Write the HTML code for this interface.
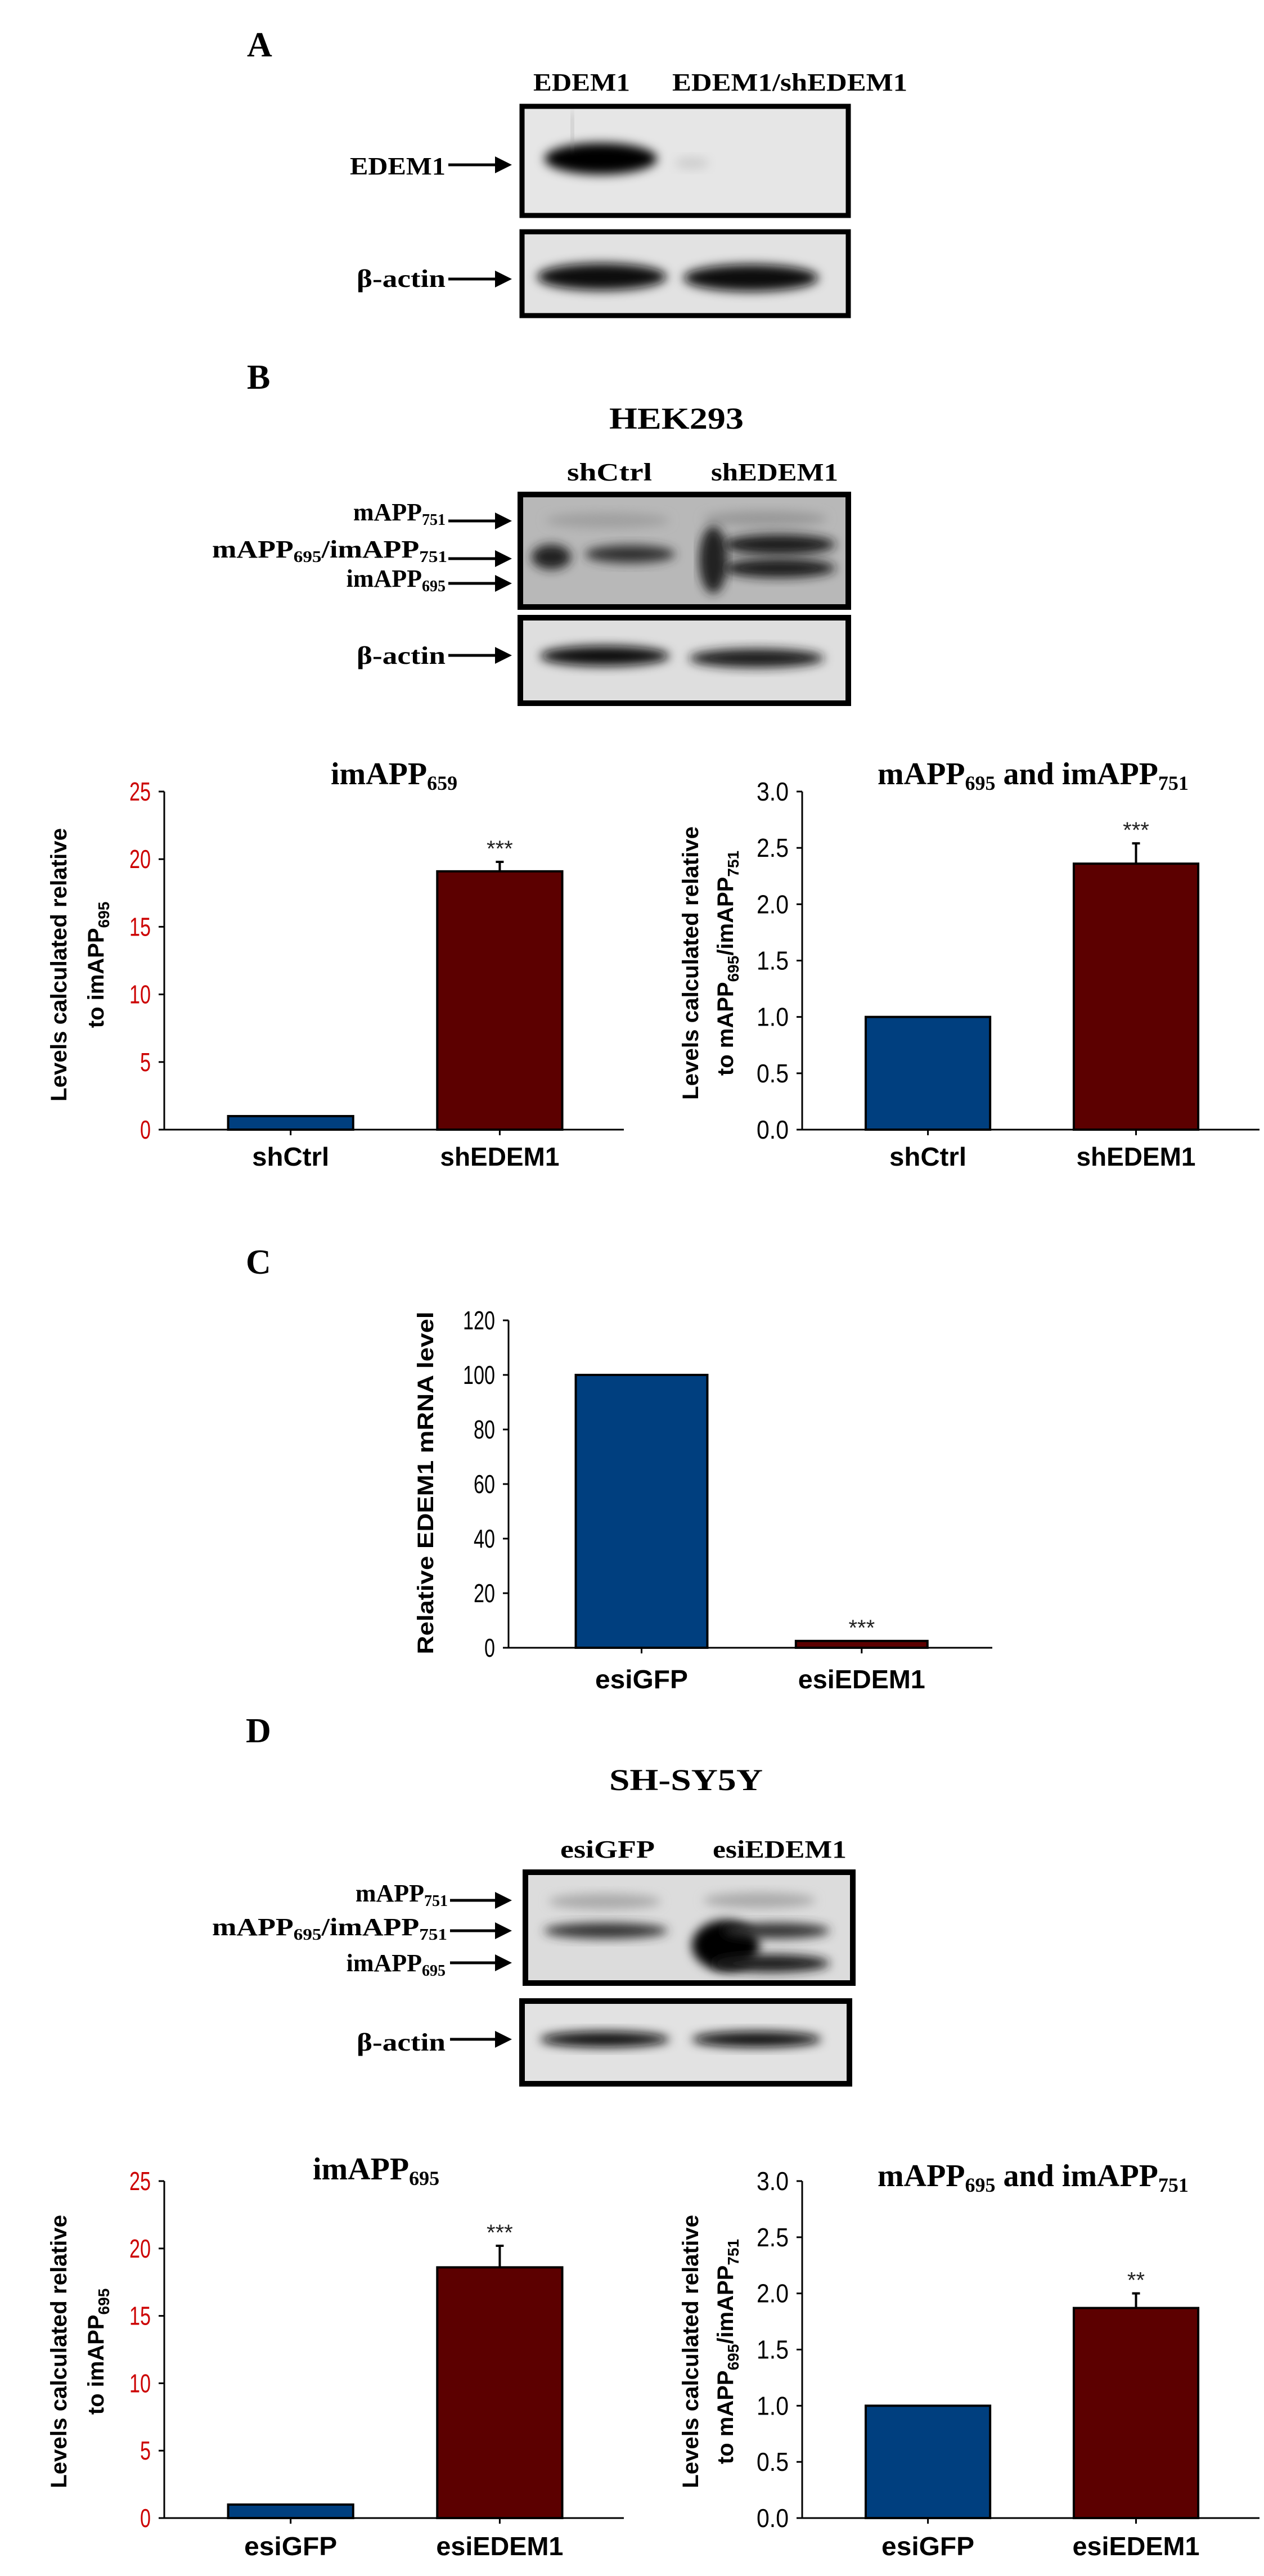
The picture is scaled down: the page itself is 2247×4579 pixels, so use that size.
<!DOCTYPE html>
<html><head><meta charset="utf-8">
<style>
html,body{margin:0;padding:0;background:#fff;}
svg{display:block;}
.serif{font-family:"Liberation Serif",serif;font-weight:bold;}
.sans{font-family:"Liberation Sans",sans-serif;}
</style></head>
<body>
<svg id="fig" width="2247" height="4579" viewBox="0 0 2247 4579" xmlns="http://www.w3.org/2000/svg">
<defs>
<filter id="blur" x="-20%" y="-50%" width="140%" height="200%"><feGaussianBlur stdDeviation="9"/></filter>
<marker id="ah" markerWidth="6" markerHeight="6" refX="5" refY="3" orient="auto" markerUnits="strokeWidth"><path d="M0,0 L6,3 L0,6 z" fill="#000"/></marker>
</defs>

<!-- ===== Panel A ===== -->
<g>
<text class="serif" x="439" y="100" font-size="62" font-weight="bold">A</text>
<text class="serif" x="948" y="161" font-size="44" textLength="172" lengthAdjust="spacingAndGlyphs">EDEM1</text>
<text class="serif" x="1195" y="161" font-size="44" textLength="418" lengthAdjust="spacingAndGlyphs">EDEM1/shEDEM1</text>
<g>
<rect x="928" y="189" width="580" height="194" fill="#e6e6e6"/>
<ellipse cx="1068" cy="282" rx="100" ry="28" fill="#000" filter="url(#blur)"/>
<line x1="1015" y1="200" x2="1020" y2="260" stroke="#999" stroke-width="5" filter="url(#blur)"/>
<ellipse cx="1230" cy="290" rx="30" ry="10" fill="#ccc" filter="url(#blur)"/>
<rect x="928" y="189" width="580" height="194" fill="none" stroke="#000" stroke-width="9"/>
</g>
<g>
<rect x="928" y="412" width="580" height="149" fill="#e2e2e2"/>
<ellipse cx="1070" cy="492" rx="115" ry="24" fill="#111" filter="url(#blur)"/>
<ellipse cx="1335" cy="494" rx="120" ry="24" fill="#111" filter="url(#blur)"/>
<rect x="928" y="412" width="580" height="149" fill="none" stroke="#000" stroke-width="9"/>
</g>
<text class="serif" x="792" y="310" font-size="44" text-anchor="end" textLength="170" lengthAdjust="spacingAndGlyphs">EDEM1</text>
<line x1="797" y1="293" x2="905" y2="293" stroke="#000" stroke-width="5" marker-end="url(#ah)"/>
<text class="serif" x="792" y="510" font-size="44" text-anchor="end" textLength="158" lengthAdjust="spacingAndGlyphs">β-actin</text>
<line x1="797" y1="496" x2="905" y2="496" stroke="#000" stroke-width="5" marker-end="url(#ah)"/>
</g>

<!-- ===== Panel B blots ===== -->
<g>
<text class="serif" x="439" y="691" font-size="62" font-weight="bold">B</text>
<text class="serif" x="1083" y="762" font-size="54" textLength="239" lengthAdjust="spacingAndGlyphs">HEK293</text>
<text class="serif" x="1008" y="854" font-size="44" textLength="151" lengthAdjust="spacingAndGlyphs">shCtrl</text>
<text class="serif" x="1264" y="854" font-size="44" textLength="226" lengthAdjust="spacingAndGlyphs">shEDEM1</text>
<g>
<rect x="925" y="879" width="583" height="200" fill="#b8b8b8"/>
<ellipse cx="1080" cy="925" rx="110" ry="14" fill="#a0a0a0" filter="url(#blur)"/>
<ellipse cx="1360" cy="922" rx="110" ry="14" fill="#999" filter="url(#blur)"/>
<ellipse cx="980" cy="990" rx="35" ry="22" fill="#222" filter="url(#blur)"/>
<ellipse cx="1120" cy="985" rx="80" ry="16" fill="#333" filter="url(#blur)"/>
<ellipse cx="1268" cy="995" rx="25" ry="60" fill="#222" filter="url(#blur)"/>
<ellipse cx="1385" cy="968" rx="100" ry="18" fill="#1a1a1a" filter="url(#blur)"/>
<ellipse cx="1385" cy="1010" rx="100" ry="17" fill="#1a1a1a" filter="url(#blur)"/>
<rect x="925" y="879" width="583" height="200" fill="none" stroke="#000" stroke-width="10"/>
</g>
<g>
<rect x="925" y="1098" width="583" height="152" fill="#dedede"/>
<ellipse cx="1075" cy="1166" rx="115" ry="18" fill="#0a0a0a" filter="url(#blur)"/>
<ellipse cx="1345" cy="1170" rx="120" ry="17" fill="#1a1a1a" filter="url(#blur)"/>
<rect x="925" y="1098" width="583" height="152" fill="none" stroke="#000" stroke-width="10"/>
</g>
<text class="serif" x="792" y="925" font-size="44" text-anchor="end">mAPP<tspan font-size="28" dy="8">751</tspan></text>
<line x1="797" y1="926" x2="905" y2="926" stroke="#000" stroke-width="5" marker-end="url(#ah)"/>
<text class="serif" x="795" y="991" font-size="44" text-anchor="end" textLength="418" lengthAdjust="spacingAndGlyphs">mAPP<tspan font-size="28" dy="8">695</tspan><tspan dy="-8">/imAPP</tspan><tspan font-size="28" dy="8">751</tspan></text>
<line x1="797" y1="993" x2="905" y2="993" stroke="#000" stroke-width="5" marker-end="url(#ah)"/>
<text class="serif" x="792" y="1043" font-size="44" text-anchor="end">imAPP<tspan font-size="28" dy="8">695</tspan></text>
<line x1="797" y1="1037" x2="905" y2="1037" stroke="#000" stroke-width="5" marker-end="url(#ah)"/>
<text class="serif" x="792" y="1180" font-size="44" text-anchor="end" textLength="158" lengthAdjust="spacingAndGlyphs">β-actin</text>
<line x1="797" y1="1165" x2="905" y2="1165" stroke="#000" stroke-width="5" marker-end="url(#ah)"/>
</g>

<!-- ===== Panel C label ===== -->
<text class="serif" x="437" y="2264" font-size="62" font-weight="bold">C</text>

<!-- ===== Panel D blots ===== -->
<g>
<text class="serif" x="437" y="3097" font-size="62" font-weight="bold">D</text>
<text class="serif" x="1083" y="3182" font-size="54" textLength="273" lengthAdjust="spacingAndGlyphs">SH-SY5Y</text>
<text class="serif" x="996" y="3302" font-size="44" textLength="168" lengthAdjust="spacingAndGlyphs">esiGFP</text>
<text class="serif" x="1267" y="3302" font-size="44" textLength="238" lengthAdjust="spacingAndGlyphs">esiEDEM1</text>
<g>
<rect x="934" y="3328" width="582" height="197" fill="#dcdcdc"/>
<ellipse cx="1075" cy="3380" rx="100" ry="14" fill="#aaa" filter="url(#blur)"/>
<ellipse cx="1350" cy="3378" rx="100" ry="14" fill="#aaa" filter="url(#blur)"/>
<ellipse cx="1077" cy="3432" rx="110" ry="14" fill="#333" filter="url(#blur)"/>
<ellipse cx="1290" cy="3458" rx="60" ry="45" fill="#000" filter="url(#blur)"/>
<ellipse cx="1380" cy="3432" rx="95" ry="14" fill="#333" filter="url(#blur)"/>
<ellipse cx="1370" cy="3490" rx="105" ry="16" fill="#1a1a1a" filter="url(#blur)"/>
<rect x="934" y="3328" width="582" height="197" fill="none" stroke="#000" stroke-width="10"/>
</g>
<g>
<rect x="928" y="3557" width="582" height="147" fill="#e2e2e2"/>
<ellipse cx="1075" cy="3625" rx="115" ry="14" fill="#0a0a0a" filter="url(#blur)"/>
<ellipse cx="1345" cy="3625" rx="115" ry="14" fill="#0a0a0a" filter="url(#blur)"/>
<rect x="928" y="3557" width="582" height="147" fill="none" stroke="#000" stroke-width="10"/>
</g>
<text class="serif" x="796" y="3380" font-size="44" text-anchor="end">mAPP<tspan font-size="28" dy="8">751</tspan></text>
<line x1="800" y1="3378" x2="905" y2="3378" stroke="#000" stroke-width="5" marker-end="url(#ah)"/>
<text class="serif" x="795" y="3440" font-size="44" text-anchor="end" textLength="418" lengthAdjust="spacingAndGlyphs">mAPP<tspan font-size="28" dy="8">695</tspan><tspan dy="-8">/imAPP</tspan><tspan font-size="28" dy="8">751</tspan></text>
<line x1="800" y1="3432" x2="905" y2="3432" stroke="#000" stroke-width="5" marker-end="url(#ah)"/>
<text class="serif" x="792" y="3504" font-size="44" text-anchor="end">imAPP<tspan font-size="28" dy="8">695</tspan></text>
<line x1="800" y1="3489" x2="905" y2="3489" stroke="#000" stroke-width="5" marker-end="url(#ah)"/>
<text class="serif" x="792" y="3645" font-size="44" text-anchor="end" textLength="158" lengthAdjust="spacingAndGlyphs">β-actin</text>
<line x1="800" y1="3625" x2="905" y2="3625" stroke="#000" stroke-width="5" marker-end="url(#ah)"/>
</g>

<g id="charts"></g>
</svg>

<script>
// ---- Chart data ----
const catsB = ["shCtrl", "shEDEM1"];
const valsB1 = [1.0, 19.1];
const errsB1 = [0, 0.7];
const starsB1 = ["", "***"];
const ticksB1 = [0, 5, 10, 15, 20, 25];
const tickLabelsB1 = ["0", "5", "10", "15", "20", "25"];

const valsB2 = [1.0, 2.36];
const errsB2 = [0, 0.18];
const starsB2 = ["", "***"];
const ticksB2 = [0, 0.5, 1.0, 1.5, 2.0, 2.5, 3.0];
const tickLabelsB2 = ["0.0", "0.5", "1.0", "1.5", "2.0", "2.5", "3.0"];

const catsC = ["esiGFP", "esiEDEM1"];
const valsC = [100, 2.5];
const errsC = [0, 0];
const starsC = ["", "***"];
const ticksC = [0, 20, 40, 60, 80, 100, 120];
const tickLabelsC = ["0", "20", "40", "60", "80", "100", "120"];

const catsD = ["esiGFP", "esiEDEM1"];
const valsD1 = [1.0, 18.6];
const errsD1 = [0, 1.6];
const starsD1 = ["", "***"];
const ticksD1 = [0, 5, 10, 15, 20, 25];
const tickLabelsD1 = ["0", "5", "10", "15", "20", "25"];

const valsD2 = [1.0, 1.87];
const errsD2 = [0, 0.13];
const starsD2 = ["", "**"];
const ticksD2 = [0, 0.5, 1.0, 1.5, 2.0, 2.5, 3.0];
const tickLabelsD2 = ["0.0", "0.5", "1.0", "1.5", "2.0", "2.5", "3.0"];

const colors = ["#003f7f", "#5c0000"];
const NS = "http://www.w3.org/2000/svg";
const root = document.getElementById("charts");

function mk(tag, attrs, parent) {
  const e = document.createElementNS(NS, tag);
  for (const k in attrs) e.setAttribute(k, attrs[k]);
  parent.appendChild(e);
  return e;
}

function drawChart(o) {
  const g = mk("g", {}, root);
  
  
  const yScale = v => o.yBot - (v - o.min) / (o.max - o.min) * (o.yBot - o.yTop);
  const w = o.x1 - o.x0;
  const xCenter = i => o.x0 + w * (0.275 + i * 0.455);
  const bw = w * 0.272;
  o.vals.forEach((v, i) => {
    const r = mk("rect", {x: xCenter(i) - bw / 2, y: yScale(v), width: bw, height: o.yBot - yScale(v),
      fill: colors[i], stroke: "#000", "stroke-width": 4}, g);
    
    
    if (o.errs[i] > 0) {
      const ey = yScale(v + o.errs[i]);
      const el = mk("path", {d: `M${xCenter(i)},${yScale(v)} V${ey} M${xCenter(i) - 7},${ey} H${xCenter(i) + 7}`,
        stroke: "#000", "stroke-width": 4, fill: "none"}, g);
      
      
    }
    if (o.stars[i]) {
      const top = yScale(v + o.errs[i]);
      const st = mk("text", {x: xCenter(i), y: top - 10, "text-anchor": "middle", "font-size": 40,
        "font-family": "Liberation Sans, sans-serif", fill: "#222"}, g);
      st.textContent = o.stars[i];
      
      
    }
    const xl = mk("text", {x: xCenter(i), y: o.yBot + o.xlabOff, "text-anchor": "middle", "font-size": 46,
      "font-weight": "bold", "font-family": "Liberation Sans, sans-serif",
      textLength: o.labW[i], lengthAdjust: "spacingAndGlyphs"}, g);
    xl.textContent = o.cats[i];
    
    
    const xt = mk("line", {x1: xCenter(i), x2: xCenter(i), y1: o.yBot, y2: o.yBot + 10, stroke: "#000", "stroke-width": 3}, g);
    
    
  });
  const ya = mk("line", {x1: o.x0, x2: o.x0, y1: o.yTop, y2: o.yBot, stroke: "#000", "stroke-width": 3}, g);
  
  
  const xa = mk("line", {x1: o.x0, x2: o.x1, y1: o.yBot, y2: o.yBot, stroke: "#000", "stroke-width": 3}, g);
  
  
  o.ticks.forEach((t, i) => {
    const tl = mk("line", {x1: o.x0 - 10, x2: o.x0, y1: yScale(t), y2: yScale(t), stroke: "#000", "stroke-width": 3}, g);
    
    
    const tx = mk("text", {x: o.x0 - 24, y: yScale(t) + 16, "text-anchor": "end", "font-size": 46,
      "font-family": "Liberation Sans, sans-serif", fill: o.tickColor,
      textLength: o.tickLabels[i].length * 19, lengthAdjust: "spacingAndGlyphs"}, g);
    tx.textContent = o.tickLabels[i];
    
    
  });
  const yt = mk("g", {transform: `rotate(-90)`}, g);
  
  
  yt.innerHTML = o.ytitle;
  if (o.title) {
    const tt = mk("text", {x: o.titleX, y: o.titleY, "font-size": 56, "font-weight": "bold", "font-family": "Liberation Serif, serif"}, g);
    tt.innerHTML = o.title;
    
    
  }
}

const ytLeft = (cy) => `<text x="${-cy}" y="118" text-anchor="middle" font-size="40" font-weight="bold" font-family="Liberation Sans, sans-serif" textLength="486" lengthAdjust="spacingAndGlyphs">Levels calculated relative</text>
<text x="${-cy}" y="184" text-anchor="middle" font-size="40" font-weight="bold" font-family="Liberation Sans, sans-serif">to imAPP<tspan font-size="28" dy="10">695</tspan></text>`;
const ytRight = (cy) => `<text x="${-cy}" y="1241" text-anchor="middle" font-size="40" font-weight="bold" font-family="Liberation Sans, sans-serif" textLength="486" lengthAdjust="spacingAndGlyphs">Levels calculated relative</text>
<text x="${-cy}" y="1303" text-anchor="middle" font-size="40" font-weight="bold" font-family="Liberation Sans, sans-serif">to mAPP<tspan font-size="28" dy="10">695</tspan><tspan dy="-10">/imAPP</tspan><tspan font-size="28" dy="10">751</tspan></text>`;

const labWB = [137, 212];
const labWD = [165, 226];

drawChart({name: "chart-b-imapp", x0: 292, x1: 1109, yTop: 1407, yBot: 2008, min: 0, max: 25,
  cats: catsB, vals: valsB1, errs: errsB1, stars: starsB1, ticks: ticksB1, tickLabels: tickLabelsB1, labW: labWB,
  tickColor: "#cc0000", xlabOff: 64, ytitle: ytLeft(1715),
  title: 'imAPP<tspan font-size="36" dy="10">659</tspan>', titleX: 588, titleY: 1394});
drawChart({name: "chart-b-mapp", x0: 1426, x1: 2239, yTop: 1407, yBot: 2008, min: 0, max: 3,
  cats: catsB, vals: valsB2, errs: errsB2, stars: starsB2, ticks: ticksB2, tickLabels: tickLabelsB2, labW: labWB,
  tickColor: "#000", xlabOff: 64, ytitle: ytRight(1712),
  title: 'mAPP<tspan font-size="36" dy="10">695</tspan><tspan dy="-10"> and imAPP</tspan><tspan font-size="36" dy="10">751</tspan>', titleX: 1560, titleY: 1394});
drawChart({name: "chart-c-mrna", x0: 904, x1: 1764, yTop: 2347, yBot: 2929, min: 0, max: 120,
  cats: catsC, vals: valsC, errs: errsC, stars: starsC, ticks: ticksC, tickLabels: tickLabelsC, labW: labWD,
  tickColor: "#000", xlabOff: 72,
  ytitle: `<text x="-2636" y="770" text-anchor="middle" font-size="40" font-weight="bold" font-family="Liberation Sans, sans-serif" textLength="609" lengthAdjust="spacingAndGlyphs">Relative EDEM1 mRNA level</text>`});
drawChart({name: "chart-d-imapp", x0: 292, x1: 1109, yTop: 3877, yBot: 4476, min: 0, max: 25,
  cats: catsD, vals: valsD1, errs: errsD1, stars: starsD1, ticks: ticksD1, tickLabels: tickLabelsD1, labW: labWD,
  tickColor: "#cc0000", xlabOff: 66, ytitle: ytLeft(4180),
  title: 'imAPP<tspan font-size="36" dy="10">695</tspan>', titleX: 556, titleY: 3874});
drawChart({name: "chart-d-mapp", x0: 1426, x1: 2239, yTop: 3877, yBot: 4476, min: 0, max: 3,
  cats: catsD, vals: valsD2, errs: errsD2, stars: starsD2, ticks: ticksD2, tickLabels: tickLabelsD2, labW: labWD,
  tickColor: "#000", xlabOff: 66, ytitle: ytRight(4180),
  title: 'mAPP<tspan font-size="36" dy="10">695</tspan><tspan dy="-10"> and imAPP</tspan><tspan font-size="36" dy="10">751</tspan>', titleX: 1560, titleY: 3886});
</script>
</body></html>
